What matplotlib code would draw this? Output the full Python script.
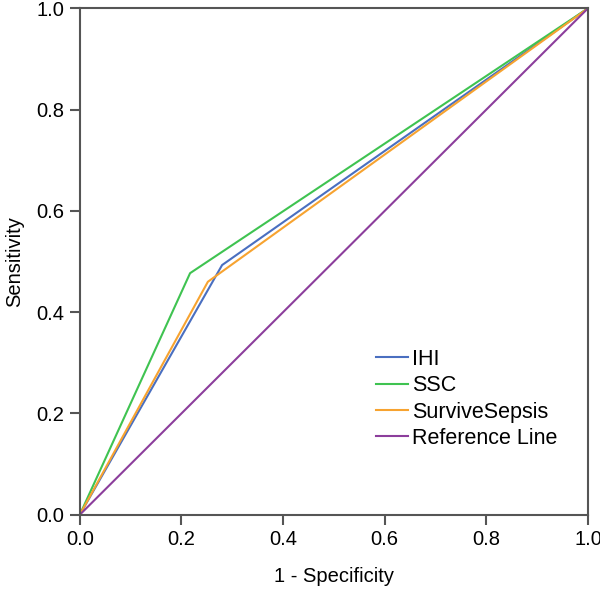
import matplotlib
matplotlib.use("Agg")
import matplotlib.pyplot as plt

plt.rcParams['font.family'] = ['Liberation Sans', 'DejaVu Sans']

# ROC curve points
ihi_x = [0.0, 0.28, 1.0]
ihi_y = [0.0, 0.493, 1.0]
ssc_x = [0.0, 0.217, 1.0]
ssc_y = [0.0, 0.477, 1.0]
ss_x = [0.0, 0.252, 1.0]
ss_y = [0.0, 0.46, 1.0]
ref_x = [0.0, 1.0]
ref_y = [0.0, 1.0]
ticks = [0.0, 0.2, 0.4, 0.6, 0.8, 1.0]

fig = plt.figure(figsize=(6, 5.91), dpi=100)
ax = fig.add_axes([0.133, 0.129, 0.847, 0.857])

ax.plot(ihi_x, ihi_y, color="#4a6fc0", lw=1.5, label="IHI")
ax.plot(ssc_x, ssc_y, color="#3fc351", lw=1.5, label="SSC")
ax.plot(ss_x, ss_y, color="#f7a330", lw=1.5, label="SurviveSepsis")
ax.plot(ref_x, ref_y, color="#8c3e9c", lw=1.5, label="Reference Line")

ax.set_xlim(0, 1)
ax.set_ylim(0, 1)
ax.set_xticks(ticks)
ax.set_yticks(ticks)
ax.set_xticklabels([f"{t:.1f}" for t in ticks], fontsize=14.5)
ax.set_yticklabels([f"{t:.1f}" for t in ticks], fontsize=14.5)
ax.tick_params(length=7, width=1.5, color="#555555", pad=4)
for s in ax.spines.values():
    s.set_color("#555555")
    s.set_linewidth(1.5)

ax.set_xlabel("1 - Specificity", fontsize=14.5, labelpad=13)
ax.set_ylabel("Sensitivity", fontsize=14.5, labelpad=9)

ax.legend(loc="lower left", bbox_to_anchor=(0.565, 0.113), frameon=False,
          fontsize=15.5, handlelength=1.5, handletextpad=0.2, labelspacing=0.25,
          borderaxespad=0)

fig.savefig("out.png", dpi=100)
